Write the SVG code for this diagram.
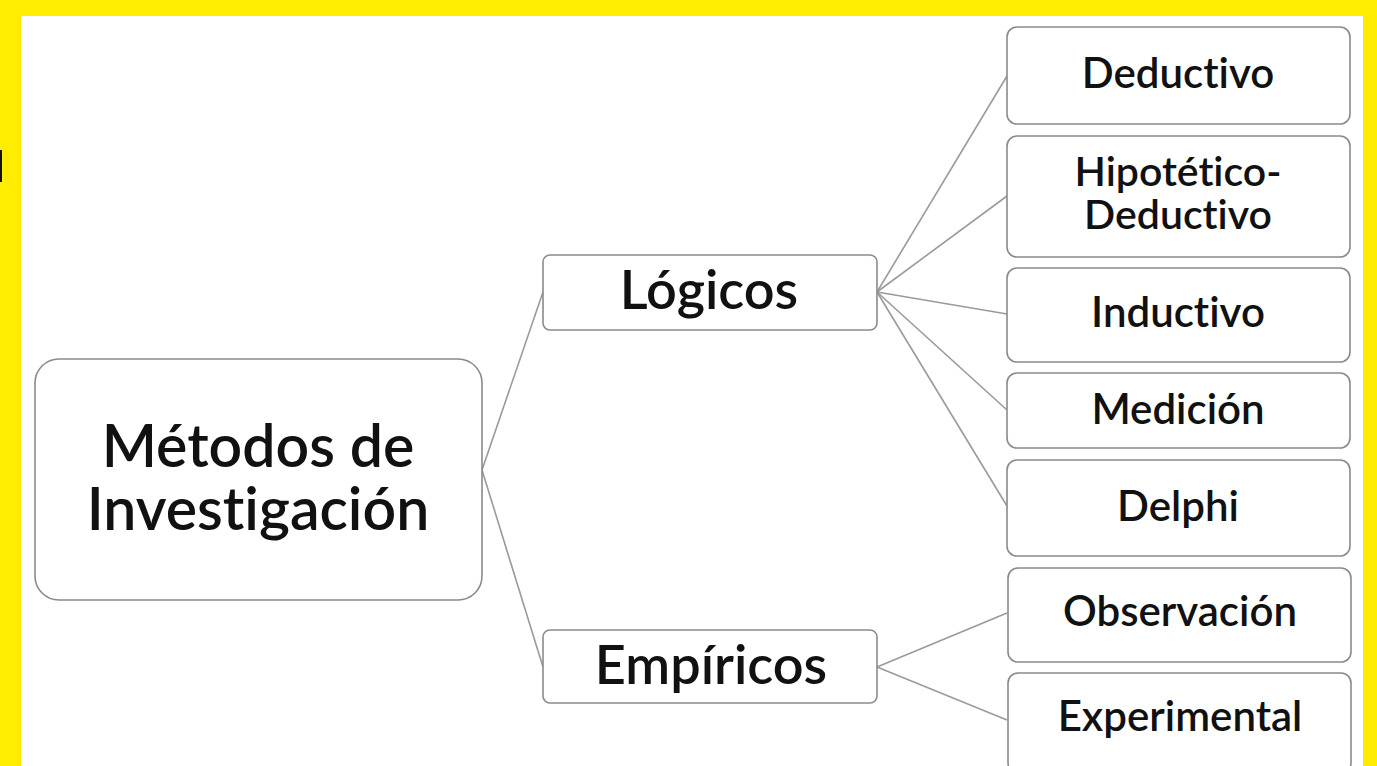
<svg xmlns="http://www.w3.org/2000/svg" width="1377" height="766" viewBox="0 0 1377 766">
<style>
.box{fill:#fff;stroke:#8a8a8a;stroke-width:1.6}
.t{font-family:Lato,"Liberation Sans",sans-serif;fill:#111;text-anchor:middle;font-weight:600;font-variant-ligatures:none}
.c{stroke:#9a9a9a;stroke-width:1.6;fill:none}
</style>
<rect x="0" y="0" width="1377" height="766" fill="#ffec00"/>
<rect x="21" y="16" width="1342" height="760" fill="#fff"/>
<rect x="0" y="150" width="2" height="32" fill="#111"/>
<g id="connectors">
<line class="c" x1="482" y1="470" x2="543" y2="292"/>
<line class="c" x1="482" y1="470" x2="543" y2="667"/>
<line class="c" x1="877" y1="292" x2="1007" y2="76"/>
<line class="c" x1="877" y1="292" x2="1007" y2="196"/>
<line class="c" x1="877" y1="292" x2="1007" y2="314"/>
<line class="c" x1="877" y1="292" x2="1007" y2="410"/>
<line class="c" x1="877" y1="292" x2="1007" y2="506"/>
<line class="c" x1="877" y1="667" x2="1007" y2="613"/>
<line class="c" x1="877" y1="667" x2="1007" y2="720"/>
</g>
<g id="metodos">
<rect class="box" x="35" y="359" width="447" height="241" rx="24"/>
<text class="t" font-size="59"><tspan x="258" y="467">Métodos de</tspan><tspan x="258" y="530">Investigación</tspan></text>
</g>
<g id="logicos">
<rect class="box" x="543" y="255" width="334" height="75" rx="7"/>
<text class="t" x="709" y="309" font-size="54">Lógicos</text>
</g>
<g id="empiricos">
<rect class="box" x="543" y="630" width="334" height="73" rx="7"/>
<text class="t" x="711" y="684" font-size="54">Empíricos</text>
</g>
<g id="deductivo">
<rect class="box" x="1007" y="27" width="343" height="97" rx="10"/>
<text class="t" x="1178" y="88" font-size="42">Deductivo</text>
</g>
<g id="hipotetico">
<rect class="box" x="1007" y="136" width="343" height="121" rx="10"/>
<text class="t" font-size="41"><tspan x="1178" y="186">Hipotético-</tspan><tspan x="1178" y="229">Deductivo</tspan></text>
</g>
<g id="inductivo">
<rect class="box" x="1007" y="268" width="343" height="94" rx="10"/>
<text class="t" x="1178" y="327" font-size="42">Inductivo</text>
</g>
<g id="medicion">
<rect class="box" x="1007" y="373" width="343" height="75" rx="10"/>
<text class="t" x="1178" y="424" font-size="42">Medición</text>
</g>
<g id="delphi">
<rect class="box" x="1007" y="460" width="343" height="96" rx="10"/>
<text class="t" x="1178" y="521" font-size="42">Delphi</text>
</g>
<g id="observacion">
<rect class="box" x="1008" y="568" width="343" height="94" rx="10"/>
<text class="t" x="1180" y="626" font-size="42">Observación</text>
</g>
<g id="experimental">
<rect class="box" x="1008" y="673" width="343" height="100" rx="10"/>
<text class="t" x="1180" y="731" font-size="42">Experimental</text>
</g>
</svg>
